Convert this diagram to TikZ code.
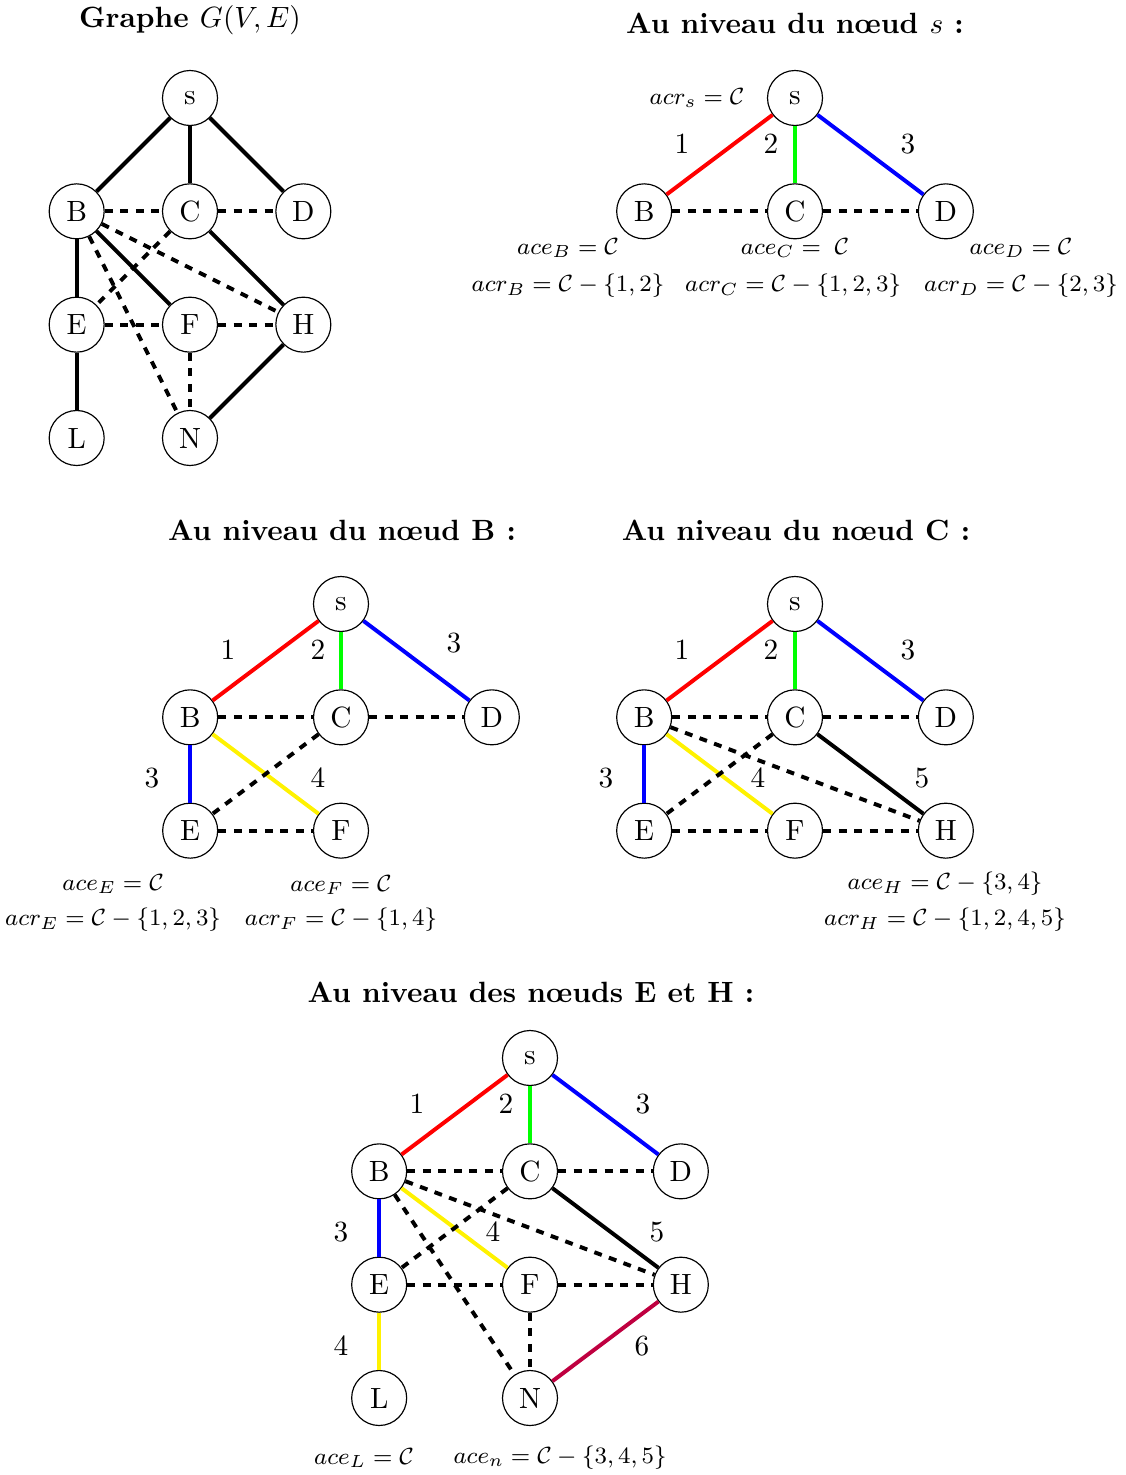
\documentclass[tikz,border=0pt]{standalone}
\usepackage{amsmath}
\usepackage{amssymb}
\usepackage{xcolor}
\usetikzlibrary{positioning}

\begin{document}
\begin{tikzpicture}[
    vertex/.style={circle, draw, line width=0.4pt, minimum size=6.6mm, inner sep=0pt},
    edge/.style={line width=1.35pt},
    dashedge/.style={line width=1.35pt, dash pattern=on 2.7pt off 2.6pt},
    annot/.style={font=\fontsize{8.5}{10}\selectfont},
    titre/.style={font=\bfseries}
  ]
  \useasboundingbox (0,0) rectangle (13.51,-17.70);

  % graphe complet
  \node[titre] (t1) at (2.28,-0.24) {Graphe $G(V,E)$};
  \begin{scope}[shift={(2.28,-1.176)}]
    \node[vertex] (s1) at (0,0)           {s};
    \node[vertex] (B1) at (-1.36,-1.36)   {B};
    \node[vertex] (C1) at (0,-1.36)       {C};
    \node[vertex] (D1) at (1.36,-1.36)    {D};
    \node[vertex] (E1) at (-1.36,-2.72)   {E};
    \node[vertex] (F1) at (0,-2.72)       {F};
    \node[vertex] (H1) at (1.36,-2.72)    {H};
    \node[vertex] (L1) at (-1.36,-4.08)   {L};
    \node[vertex] (N1) at (0,-4.08)       {N};
    \draw[edge] (s1) -- (B1);
    \draw[edge] (s1) -- (C1);
    \draw[edge] (s1) -- (D1);
    \draw[edge] (B1) -- (E1);
    \draw[edge] (B1) -- (F1);
    \draw[edge] (C1) -- (H1);
    \draw[edge] (E1) -- (L1);
    \draw[edge] (H1) -- (N1);
    \draw[dashedge] (B1) -- (C1);
    \draw[dashedge] (C1) -- (D1);
    \draw[dashedge] (B1) -- (H1);
    \draw[dashedge] (C1) -- (E1);
    \draw[dashedge] (E1) -- (F1);
    \draw[dashedge] (F1) -- (H1);
    \draw[dashedge] (B1) -- (N1);
    \draw[dashedge] (F1) -- (N1);
  \end{scope}

  % noeud s
  \node[titre] (t2) at (9.54,-0.276) {Au niveau du n\oe ud $s$ :};
  \begin{scope}[shift={(9.54,-1.176)}]
    \node[vertex] (s2) at (0,0)         {s};
    \node[vertex] (B2) at (-1.81,-1.36) {B};
    \node[vertex] (C2) at (0,-1.36)     {C};
    \node[vertex] (D2) at (1.81,-1.36)  {D};
    \draw[edge,red]   (s2) -- (B2);
    \draw[edge,green] (s2) -- (C2);
    \draw[edge,blue]  (s2) -- (D2);
    \draw[dashedge] (B2) -- (C2);
    \draw[dashedge] (C2) -- (D2);
    \node (w21) at (-1.356,-0.552) {1};
    \node (w22) at (-0.288,-0.552) {2};
    \node (w23) at (1.356,-0.552)  {3};
    \node[annot] (acrs2) at (-1.176,0)      {$acr_s = \mathcal{C}$};
    \node[annot] (aceB2) at (-2.724,-1.8)   {$ace_B = \mathcal{C}$};
    \node[annot] (acrB2) at (-2.724,-2.256) {$acr_B = \mathcal{C} - \{1,2\}$};
    \node[annot] (aceC2) at (0,-1.8)        {$ace_C = \;\mathcal{C}$};
    \node[annot] (acrC2) at (-0.024,-2.256) {$acr_C = \mathcal{C} - \{1,2,3\}$};
    \node[annot] (aceD2) at (2.712,-1.8)    {$ace_D = \mathcal{C}$};
    \node[annot] (acrD2) at (2.712,-2.256)  {$acr_D = \mathcal{C} - \{2,3\}$};
  \end{scope}

  % noeud B
  \node[titre] (t3) at (4.104,-6.36) {Au niveau du n\oe ud B :};
  \begin{scope}[shift={(4.092,-7.248)}]
    \node[vertex] (s3) at (0,0)         {s};
    \node[vertex] (B3) at (-1.81,-1.36) {B};
    \node[vertex] (C3) at (0,-1.36)     {C};
    \node[vertex] (D3) at (1.81,-1.36)  {D};
    \node[vertex] (E3) at (-1.81,-2.72) {E};
    \node[vertex] (F3) at (0,-2.72)     {F};
    \draw[edge,red]    (s3) -- (B3);
    \draw[edge,green]  (s3) -- (C3);
    \draw[edge,blue]   (s3) -- (D3);
    \draw[edge,blue]   (B3) -- (E3);
    \draw[edge,yellow] (B3) -- (F3);
    \draw[dashedge] (B3) -- (C3);
    \draw[dashedge] (C3) -- (D3);
    \draw[dashedge] (C3) -- (E3);
    \draw[dashedge] (E3) -- (F3);
    \node (w31) at (-1.356,-0.552) {1};
    \node (w32) at (-0.276,-0.552) {2};
    \node (w33) at (1.356,-0.468)  {3};
    \node (w34) at (-2.268,-2.088) {3};
    \node (w35) at (-0.276,-2.088) {4};
    \node[annot] (aceE3) at (-2.736,-3.36)  {$ace_E = \mathcal{C}$};
    \node[annot] (acrE3) at (-2.736,-3.792) {$acr_E = \mathcal{C} - \{1,2,3\}$};
    \node[annot] (aceF3) at (0,-3.372)      {$ace_F = \mathcal{C}$};
    \node[annot] (acrF3) at (0,-3.792)      {$acr_F = \mathcal{C} - \{1,4\}$};
  \end{scope}

  % noeud C
  \node[titre] (t4) at (9.552,-6.36) {Au niveau du n\oe ud C :};
  \begin{scope}[shift={(9.54,-7.248)}]
    \node[vertex] (s4) at (0,0)         {s};
    \node[vertex] (B4) at (-1.81,-1.36) {B};
    \node[vertex] (C4) at (0,-1.36)     {C};
    \node[vertex] (D4) at (1.81,-1.36)  {D};
    \node[vertex] (E4) at (-1.81,-2.72) {E};
    \node[vertex] (F4) at (0,-2.72)     {F};
    \node[vertex] (H4) at (1.81,-2.72)  {H};
    \draw[edge,red]    (s4) -- (B4);
    \draw[edge,green]  (s4) -- (C4);
    \draw[edge,blue]   (s4) -- (D4);
    \draw[edge,blue]   (B4) -- (E4);
    \draw[edge,yellow] (B4) -- (F4);
    \draw[edge]        (C4) -- (H4);
    \draw[dashedge] (B4) -- (C4);
    \draw[dashedge] (C4) -- (D4);
    \draw[dashedge] (C4) -- (E4);
    \draw[dashedge] (E4) -- (F4);
    \draw[dashedge] (B4) -- (H4);
    \draw[dashedge] (F4) -- (H4);
    \node (w41) at (-1.356,-0.552) {1};
    \node (w42) at (-0.288,-0.552) {2};
    \node (w43) at (1.356,-0.552)  {3};
    \node (w44) at (-2.268,-2.088) {3};
    \node (w45) at (-0.444,-2.088) {4};
    \node (w46) at (1.524,-2.088)  {5};
    \node[annot] (aceH4) at (1.8,-3.36)  {$ace_H = \mathcal{C} - \{3,4\}$};
    \node[annot] (acrH4) at (1.8,-3.792) {$acr_H = \mathcal{C} - \{1,2,4,5\}$};
  \end{scope}

  % noeuds E et H
  \node[titre] (t5) at (6.372,-11.904) {Au niveau des n\oe uds E et H :};
  \begin{scope}[shift={(6.36,-12.696)}]
    \node[vertex] (s5) at (0,0)         {s};
    \node[vertex] (B5) at (-1.81,-1.36) {B};
    \node[vertex] (C5) at (0,-1.36)     {C};
    \node[vertex] (D5) at (1.81,-1.36)  {D};
    \node[vertex] (E5) at (-1.81,-2.72) {E};
    \node[vertex] (F5) at (0,-2.72)     {F};
    \node[vertex] (H5) at (1.81,-2.72)  {H};
    \node[vertex] (L5) at (-1.81,-4.08) {L};
    \node[vertex] (N5) at (0,-4.08)     {N};
    \draw[edge,red]    (s5) -- (B5);
    \draw[edge,green]  (s5) -- (C5);
    \draw[edge,blue]   (s5) -- (D5);
    \draw[edge,blue]   (B5) -- (E5);
    \draw[edge,yellow] (B5) -- (F5);
    \draw[edge]        (C5) -- (H5);
    \draw[edge,yellow] (E5) -- (L5);
    \draw[edge,purple] (H5) -- (N5);
    \draw[dashedge] (B5) -- (C5);
    \draw[dashedge] (C5) -- (D5);
    \draw[dashedge] (C5) -- (E5);
    \draw[dashedge] (E5) -- (F5);
    \draw[dashedge] (B5) -- (H5);
    \draw[dashedge] (F5) -- (H5);
    \draw[dashedge] (B5) -- (N5);
    \draw[dashedge] (F5) -- (N5);
    \node (w51) at (-1.356,-0.552) {1};
    \node (w52) at (-0.288,-0.552) {2};
    \node (w53) at (1.356,-0.552)  {3};
    \node (w54) at (-2.268,-2.088) {3};
    \node (w55) at (-0.444,-2.088) {4};
    \node (w56) at (1.524,-2.088)  {5};
    \node (w57) at (-2.268,-3.456) {4};
    \node (w58) at (1.344,-3.456)  {6};
    \node[annot] (aceL5) at (-1.992,-4.8) {$ace_L = \mathcal{C}$};
    \node[annot] (acen5) at (0.36,-4.8)   {$ace_n = \mathcal{C} - \{3,4,5\}$};
  \end{scope}
\end{tikzpicture}
\end{document}
